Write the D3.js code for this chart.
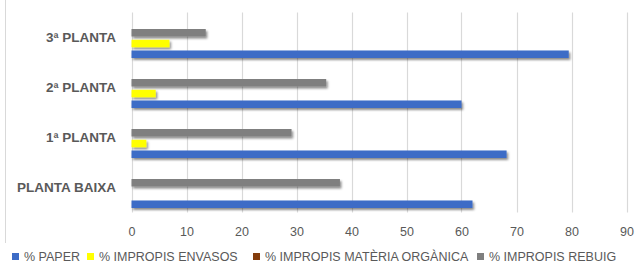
<!DOCTYPE html>
<html>
<head>
<meta charset="utf-8">
<script src="https://cdn.jsdelivr.net/npm/d3@7"></script>
<style>
  body { margin: 0; background: #fff; }
  svg { display: block; }
</style>
</head>
<body>
<script>
// Data.
var categories = ["3ª PLANTA", "2ª PLANTA", "1ª PLANTA", "PLANTA BAIXA"],
  seriesNames = ["% PAPER", "% IMPROPIS ENVASOS", "% IMPROPIS MATÈRIA ORGÀNICA", "% IMPROPIS REBUIG"],
  paper = [79.5, 60.0, 68.2, 62.0],
  envasos = [6.9, 4.4, 2.7, 0],
  organica = [0, 0, 0, 0],
  rebuig = [13.5, 35.4, 29.1, 37.9],
  xTicks = [0, 10, 20, 30, 40, 50, 60, 70, 80, 90];

// Configuration.
var width = 644,
  height = 263,
  plotLeft = 131.5,
  plotRight = 626.5,
  plotTop = 12.5,
  plotBottom = 212.5,
  colors = ["#3d6cc6", "#ffff00", "#843c0c", "#7f7f7f"],
  textColor = "#595959",
  gridColor = "#d9d9d9",
  fontFamily = '"Liberation Sans", Arial, sans-serif';

var series = seriesNames.map(function(name, i) {
  return { name: name, color: colors[i], values: [paper, envasos, organica, rebuig][i] };
});
// the organic series draws nothing, Excel left no slot for it
var plotted = [series[3], series[1], series[0]];

var svg = d3.select("body").append("svg")
  .attr("width", width)
  .attr("height", height);

var defs = svg.append("defs");
defs.append("filter")
    .attr("id", "shadow")
    .attr("x", "-10%").attr("y", "-50%")
    .attr("width", "120%").attr("height", "250%")
  .append("feDropShadow")
    .attr("dx", 1.5).attr("dy", 2)
    .attr("stdDeviation", 1.3)
    .attr("flood-color", "#000")
    .attr("flood-opacity", 0.45);

var x = d3.scaleLinear()
  .domain([0, 90])
  .range([plotLeft, plotRight]);

var y = d3.scaleBand()
  .domain(categories)
  .range([plotTop, plotBottom]);

var ySub = d3.scaleBand()
  .domain(plotted.map(function(s) { return s.name; }))
  .range([y.bandwidth() * 0.33, y.bandwidth() * 0.91])
  .paddingInner(0.3);

// chart area border
svg.append("line")
  .attr("x1", 5.5).attr("x2", 5.5)
  .attr("y1", 0).attr("y2", 243)
  .attr("stroke", gridColor);

// gridlines
svg.append("g")
  .selectAll("line")
  .data(xTicks)
  .enter().append("line")
    .attr("x1", function(d) { return Math.round(x(d)) + 0.5; })
    .attr("x2", function(d) { return Math.round(x(d)) + 0.5; })
    .attr("y1", plotTop)
    .attr("y2", plotBottom)
    .attr("stroke", gridColor)
    .attr("stroke-width", 1.2);

// bars
var groups = svg.append("g")
  .selectAll("g")
  .data(plotted)
  .enter().append("g")
    .attr("fill", function(s) { return s.color; })
    .attr("filter", "url(#shadow)");

groups.selectAll("rect")
  .data(function(s) {
    return s.values.map(function(v, i) { return { s: s, v: v, c: categories[i] }; })
      .filter(function(d) { return d.v > 0; });
  })
  .enter().append("rect")
    .attr("x", x(0))
    .attr("y", function(d) { return y(d.c) + ySub(d.s.name); })
    .attr("width", function(d) { return x(d.v) - x(0); })
    .attr("height", ySub.bandwidth());

// category labels
svg.append("g")
  .selectAll("text")
  .data(categories)
  .enter().append("text")
    .attr("x", 116)
    .attr("y", function(d) { return y(d) + y.bandwidth() / 2; })
    .attr("dy", "0.35em")
    .attr("text-anchor", "end")
    .style("font-family", fontFamily)
    .style("font-size", "13.5px")
    .style("font-weight", "bold")
    .style("fill", textColor)
    .text(function(d) { return d; });

// value axis labels
var xAxis = svg.append("g")
  .attr("transform", "translate(0," + plotBottom + ")")
  .call(d3.axisBottom(x).tickValues(xTicks).tickSize(0).tickPadding(15));
xAxis.select(".domain").remove();
xAxis.selectAll("text")
  .style("font-family", fontFamily)
  .style("font-size", "12.5px")
  .style("fill", textColor);

// legend
var legendX = [12, 87, 253, 477];
var legend = svg.append("g")
  .selectAll("g")
  .data(series)
  .enter().append("g")
    .attr("transform", function(d, i) { return "translate(" + legendX[i] + ",253)"; });
legend.append("rect")
  .attr("width", 7)
  .attr("height", 7)
  .attr("fill", function(d) { return d.color; });
legend.append("text")
  .attr("x", 12)
  .attr("y", 3.5)
  .attr("dy", "0.35em")
  .style("font-family", fontFamily)
  .style("font-size", "12.5px")
  .style("fill", textColor)
  .text(function(d) { return d.name; });
</script>
</body>
</html>
